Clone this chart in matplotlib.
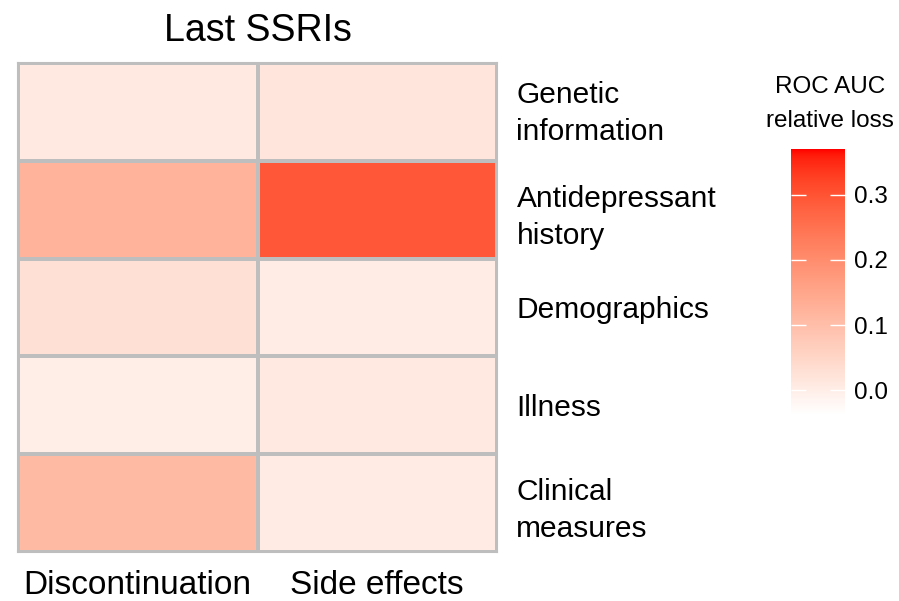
import numpy as np
import matplotlib
matplotlib.use("Agg")
import matplotlib.pyplot as plt
from matplotlib.colors import ListedColormap, Normalize
from matplotlib.transforms import ScaledTranslation

plt.rcParams['font.family'] = ['Liberation Sans', 'DejaVu Sans']

rows = ['Genetic\ninformation', 'Antidepressant\nhistory', 'Demographics', 'Illness', 'Clinical\nmeasures']
cols = ['Discontinuation', 'Side effects']
discontinuation = [0.010, 0.122, 0.028, 0.000, 0.110]
side_effects = [0.018, 0.295, 0.002, 0.010, 0.006]
vmin, vmax = -0.038, 0.37
cbar_ticks = [0.0, 0.1, 0.2, 0.3]


# white -> red gradient interpolated in Lab space (like ggplot)
def srgb_to_lab(c):
    c = np.asarray(c, float)
    lin = np.where(c <= 0.04045, c / 12.92, ((c + 0.055) / 1.055) ** 2.4)
    M = np.array([[0.4124, 0.3576, 0.1805], [0.2126, 0.7152, 0.0722], [0.0193, 0.1192, 0.9505]])
    xyz = M @ lin / np.array([0.95047, 1.0, 1.08883])
    f = np.where(xyz > 0.008856, np.cbrt(xyz), 7.787 * xyz + 16 / 116)
    return np.array([116 * f[1] - 16, 500 * (f[0] - f[1]), 200 * (f[1] - f[2])])


def lab_to_srgb(lab):
    L, a, b = lab
    fy = (L + 16) / 116
    fx = fy + a / 500
    fz = fy - b / 200
    f = np.array([fx, fy, fz])
    xyz = np.where(f ** 3 > 0.008856, f ** 3, (f - 16 / 116) / 7.787) * np.array([0.95047, 1.0, 1.08883])
    Minv = np.array([[3.2406, -1.5372, -0.4986], [-0.9689, 1.8758, 0.0415], [0.0557, -0.2040, 1.0570]])
    lin = np.clip(Minv @ xyz, 0, 1)
    c = np.where(lin <= 0.0031308, 12.92 * lin, 1.055 * lin ** (1 / 2.4) - 0.055)
    return np.clip(c, 0, 1)


lo = srgb_to_lab([1, 1, 1])
hi = srgb_to_lab([1, 0, 0])
cols_rgb = [lab_to_srgb(lo + (hi - lo) * t) for t in np.linspace(0, 1, 256)]
cmap = ListedColormap(cols_rgb)
norm = Normalize(vmin=vmin, vmax=vmax)

data = np.array([discontinuation, side_effects]).T

fig = plt.figure(figsize=(8.99, 6.01), dpi=100)
ax = fig.add_axes([18 / 899, 1 - 552 / 601, 479 / 899, 489 / 601])
mesh = ax.pcolormesh(data, cmap=cmap, norm=norm, edgecolors='#bebebe', linewidth=1.5)
ax.set_xlim(0, 2)
ax.set_ylim(5, 0)
for s in ax.spines.values():
    s.set_color('#bebebe')
    s.set_linewidth(1.5)
ax.set_xticks([0.5, 1.5])
ax.set_xticklabels(cols, fontsize=24)
ax.set_yticks(np.arange(5) + 0.5)
ax.set_yticklabels(rows, fontsize=21.5, ha='left', linespacing=1.42)
ax.yaxis.tick_right()
ax.tick_params(axis='both', length=0)
ax.tick_params(axis='x', pad=13)
ax.tick_params(axis='y', pad=14)
# first label sits a bit higher in the original
lbl0 = ax.get_yticklabels()[0]
lbl0.set_transform(lbl0.get_transform() + ScaledTranslation(0, 6 / 100, fig.dpi_scale_trans))
ax.set_title('Last SSRIs', fontsize=27, pad=16)

cax = fig.add_axes([791 / 899, 1 - 415 / 601, 54 / 899, 266 / 601])
cb = fig.colorbar(mesh, cax=cax, ticks=cbar_ticks)
cb.outline.set_visible(False)
cax.yaxis.set_ticks_position('both')
cax.tick_params(direction='in', length=11, width=1, color='white', labelsize=17.5,
                labelleft=False, labelright=True, pad=-1)
cax.set_yticklabels(['%.1f' % t for t in cbar_ticks])
for lbl in cax.get_yticklabels():
    lbl.set_x(1.2)
fig.text(830 / 899, 1 - 104 / 601, 'ROC AUC\nrelative loss', ha='center', va='center',
         fontsize=17.5, linespacing=1.65)

fig.savefig('out.png', dpi=100)
